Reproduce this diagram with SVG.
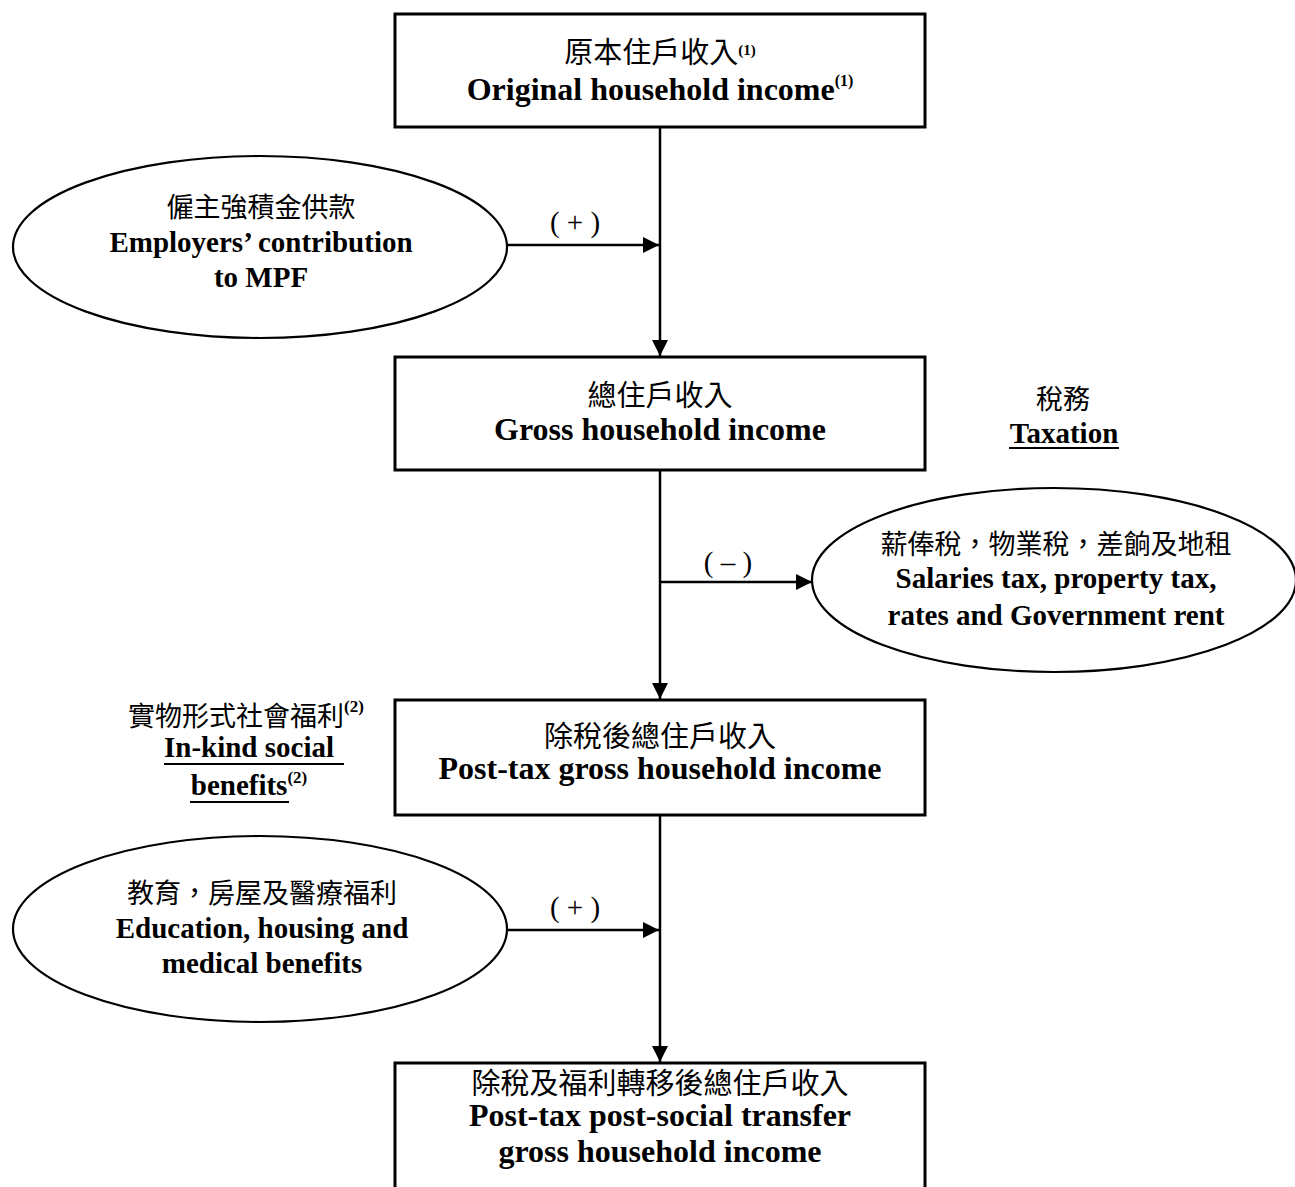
<svg xmlns="http://www.w3.org/2000/svg" width="1295" height="1187" viewBox="0 0 1295 1187">
<style>
.box{fill:#fff;stroke:#000;stroke-width:3}
.ell{fill:#fff;stroke:#000;stroke-width:2.2}
.conn{stroke:#000;stroke-width:2.5;fill:none}
.zh{font-family:'Liberation Serif','Noto Sans CJK TC',serif;text-anchor:middle;fill:#000}
.zb{font-size:29px}
.zs{font-size:27px}
.en{font-family:'Liberation Serif',serif;font-weight:bold;text-anchor:middle;fill:#000}
.eb{font-size:32px}
.es{font-size:29px}
.sup{font-family:'Liberation Serif',serif;font-weight:bold}
.op{font-family:'Liberation Serif',serif;font-size:29px;text-anchor:middle;fill:#000}
.ul{stroke:#000;stroke-width:2}
</style>
<defs>
<marker id="arr" markerUnits="userSpaceOnUse" markerWidth="16" markerHeight="16" refX="16" refY="8" orient="auto">
<path d="M0,0 L16,8 L0,16 z" fill="#000"/>
</marker>
</defs>
<rect width="1295" height="1187" fill="#fff"/>
<g id="connectors">
<line class="conn" x1="660" y1="127" x2="660" y2="356" marker-end="url(#arr)"/>
<line class="conn" x1="508" y1="245" x2="659" y2="245" marker-end="url(#arr)"/>
<line class="conn" x1="660" y1="470" x2="660" y2="699" marker-end="url(#arr)"/>
<line class="conn" x1="660" y1="582" x2="812" y2="582" marker-end="url(#arr)"/>
<line class="conn" x1="660" y1="815" x2="660" y2="1062" marker-end="url(#arr)"/>
<line class="conn" x1="508" y1="930" x2="659" y2="930" marker-end="url(#arr)"/>
<text class="op" x="575" y="232">( + )</text>
<text class="op" x="728" y="572">( – )</text>
<text class="op" x="575" y="917">( + )</text>
</g>
<g id="original">
<rect class="box" x="395" y="14" width="530" height="113"/>
<text class="zh zb" x="660" y="63">原本住戶收入<tspan class="sup" font-size="15" dy="-8">(1)</tspan></text>
<text class="en eb" x="660" y="100">Original household income<tspan class="sup" font-size="16" dy="-14">(1)</tspan></text>
</g>
<g id="mpf">
<ellipse class="ell" cx="260" cy="247" rx="247" ry="91"/>
<text class="zh zs" x="261" y="217">僱主強積金供款</text>
<text class="en es" x="261" y="252">Employers’ contribution</text>
<text class="en es" x="261" y="287">to MPF</text>
</g>
<g id="gross">
<rect class="box" x="395" y="357" width="530" height="113"/>
<text class="zh zb" x="660" y="406">總住戶收入</text>
<text class="en eb" x="660" y="440">Gross household income</text>
</g>
<g id="taxation-label">
<text class="zh zs" x="1063" y="409">稅務</text>
<text class="en es" x="1064" y="443">Taxation</text>
<line class="ul" x1="1009" y1="448" x2="1119" y2="448"/>
</g>
<g id="tax">
<ellipse class="ell" cx="1054" cy="580" rx="242" ry="92"/>
<text class="zh zs" x="1056" y="554">薪俸稅，物業稅，差餉及地租</text>
<text class="en es" x="1056" y="588">Salaries tax, property tax,</text>
<text class="en es" x="1056" y="625">rates and Government rent</text>
</g>
<g id="inkind-label">
<text class="zh zs" x="246" y="726">實物形式社會福利<tspan class="sup" font-size="17" dy="-14">(2)</tspan></text>
<text class="en es" x="249" y="757">In-kind social</text>
<line class="ul" x1="164" y1="764" x2="344" y2="764"/>
<text class="en es" x="249" y="795">benefits<tspan class="sup" font-size="17" dy="-12">(2)</tspan></text>
<line class="ul" x1="190" y1="802" x2="289" y2="802"/>
</g>
<g id="posttax">
<rect class="box" x="395" y="700" width="530" height="115"/>
<text class="zh zb" x="660" y="747">除稅後總住戶收入</text>
<text class="en eb" x="660" y="779">Post-tax gross household income</text>
</g>
<g id="benefits">
<ellipse class="ell" cx="260" cy="929" rx="247" ry="93"/>
<text class="zh zs" x="262" y="903">教育，房屋及醫療福利</text>
<text class="en es" x="262" y="938">Education, housing and</text>
<text class="en es" x="262" y="973">medical benefits</text>
</g>
<g id="final">
<rect class="box" x="395" y="1063" width="530" height="200"/>
<text class="zh zb" x="660" y="1094">除稅及福利轉移後總住戶收入</text>
<text class="en eb" x="660" y="1126">Post-tax post-social transfer</text>
<text class="en eb" x="660" y="1162">gross household income</text>
</g>
</svg>
